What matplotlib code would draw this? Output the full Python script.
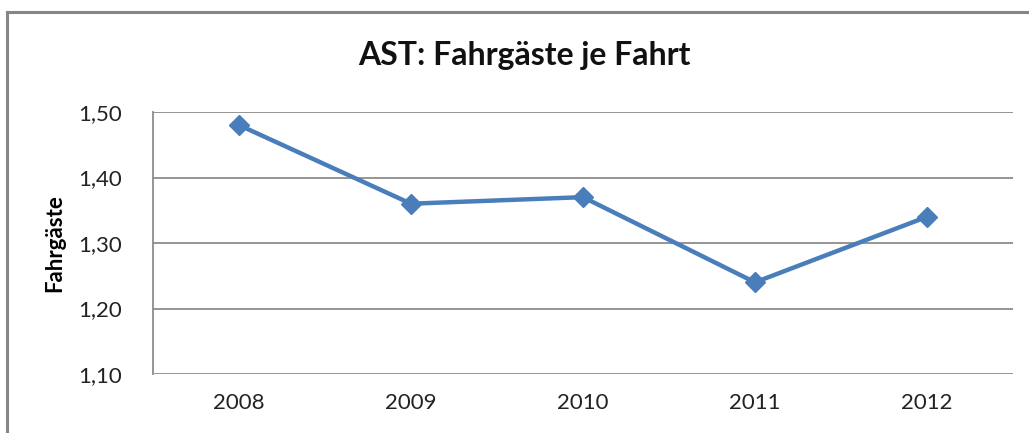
import numpy as np
import matplotlib
matplotlib.use("Agg")
from matplotlib import pyplot as plt
from matplotlib.lines import Line2D
from matplotlib.ticker import FuncFormatter

years = ["2008", "2009", "2010", "2011", "2012"]
fahrgaeste = [1.48, 1.36, 1.37, 1.24, 1.34]
y_ticks = [1.10, 1.20, 1.30, 1.40, 1.50]

LINE_COLOR = "#4A7EBB"
GRID_COLOR = "#8C8C8C"

plt.rcParams["font.family"] = ["Lato", "DejaVu Sans"]

fig = plt.figure(figsize=(10.29, 4.33), dpi=100)
ax = fig.add_axes([153/1029, 1 - 374/433, (1013 - 153)/1029, (374 - 112)/433])

x = np.arange(len(years))
ax.plot(x, fahrgaeste, color=LINE_COLOR, linewidth=3.2, marker="D",
        markersize=10.5, zorder=3)

ax.set_xlim(-0.5, len(years) - 0.5)
ax.set_ylim(y_ticks[0], y_ticks[-1])
ax.set_xticks(x)
ax.set_xticklabels(years)
ax.set_yticks(y_ticks)
ax.yaxis.set_major_formatter(FuncFormatter(lambda v, p: f"{v:.2f}".replace(".", ",")))
ax.tick_params(axis="both", length=0, labelsize=16, colors="#222222")
ax.tick_params(axis="x", pad=14)
ax.tick_params(axis="y", pad=22)

ax.grid(axis="y", color=GRID_COLOR, linewidth=1.3)
ax.set_axisbelow(True)
for side in ["top", "right", "bottom"]:
    ax.spines[side].set_visible(False)
ax.spines["left"].set_color(GRID_COLOR)
ax.spines["left"].set_linewidth(1.3)

ax.set_ylabel("Fahrgäste", fontsize=16, fontweight="bold", labelpad=10)
fig.text(524/1029, 1 - 55/433, "AST: Fahrgäste je Fahrt", fontsize=23,
         fontweight="bold", ha="center", va="center", color="#111111")

# outer frame of the chart area
frame_kw = dict(color="#868686", linewidth=2.2, transform=fig.transFigure)
fig.add_artist(Line2D([7/1029, 1.01], [1 - 12/433, 1 - 12/433], **frame_kw))
fig.add_artist(Line2D([7/1029, 7/1029], [1 - 12/433, -0.01], **frame_kw))

fig.savefig("out.png", dpi=100)
